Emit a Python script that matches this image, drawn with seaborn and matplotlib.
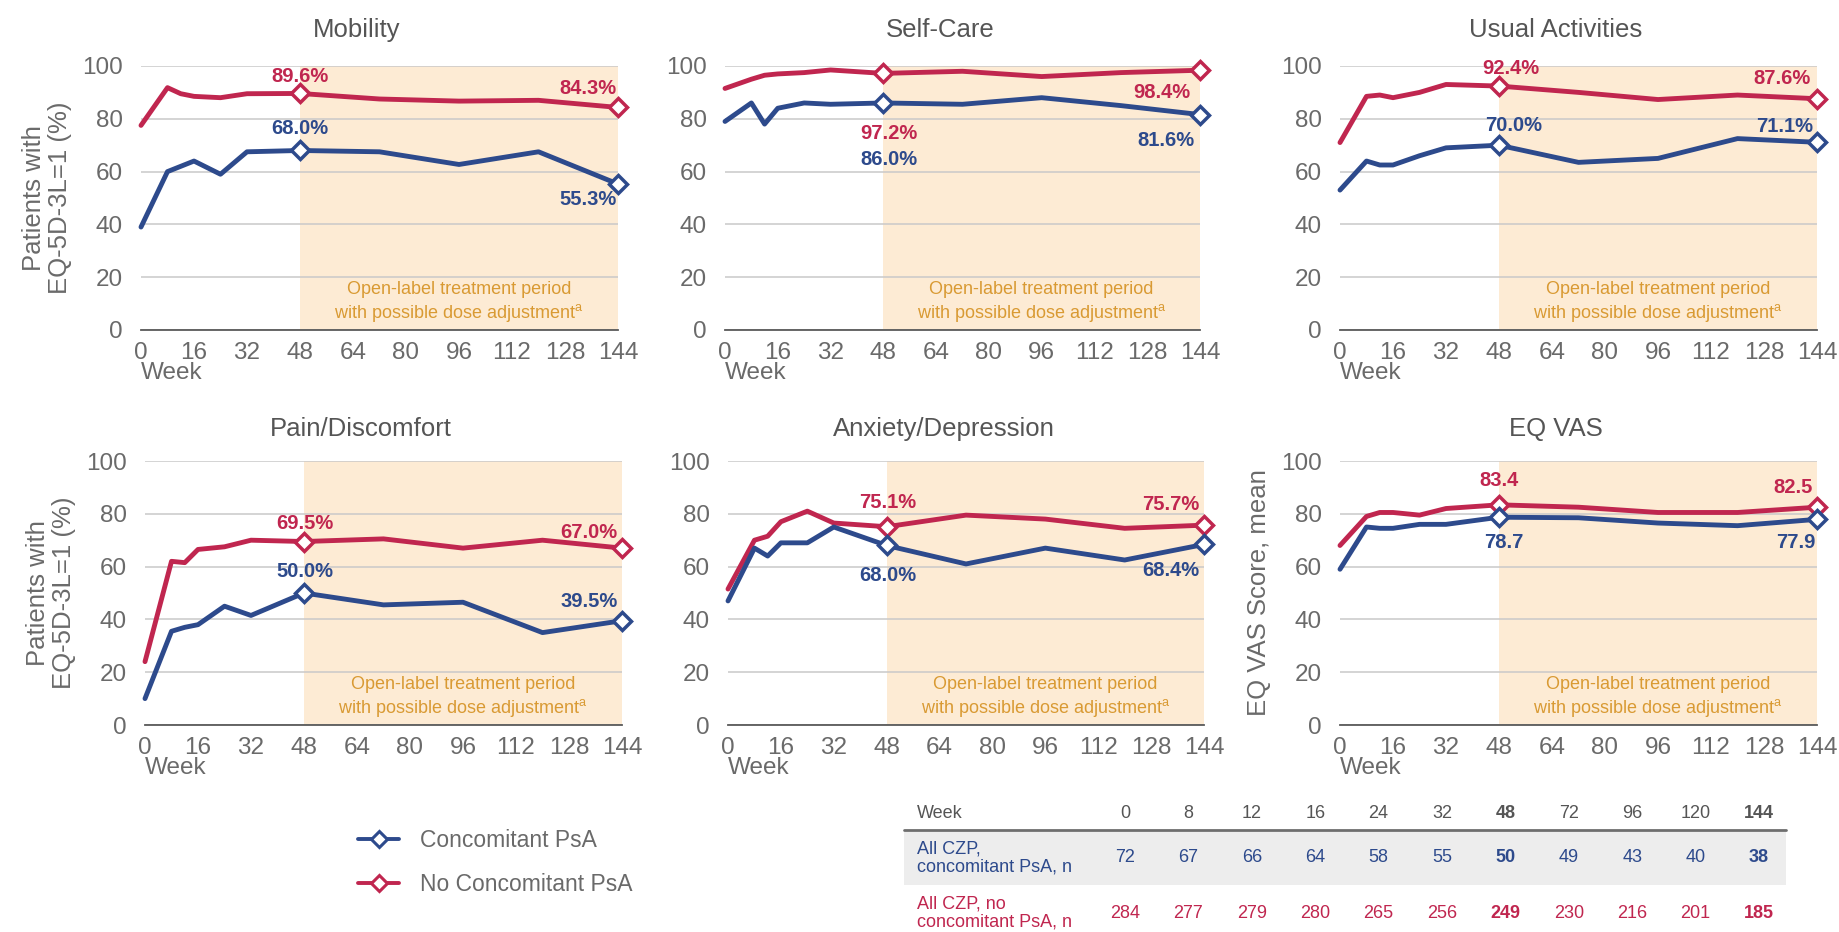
import numpy as np
import pandas as pd
import matplotlib
matplotlib.use('Agg')
import matplotlib.pyplot as plt
import seaborn as sns
from matplotlib.lines import Line2D
from matplotlib.patches import Rectangle

# ---- data ----
weeks = [0, 8, 12, 16, 24, 32, 48, 72, 96, 120, 144]
tick_weeks = [0, 16, 32, 48, 64, 80, 96, 112, 128, 144]

mobility_conc = [39, 60, 62, 64, 59, 67.5, 68.0, 67.5, 62.7, 67.5, 55.3]
mobility_noconc = [77.5, 91.8, 89.5, 88.5, 88, 89.5, 89.6, 87.5, 86.7, 87, 84.3]
selfcare_conc = [79, 86, 78, 84, 86, 85.5, 86.0, 85.5, 88, 85, 81.6]
selfcare_noconc = [91.5, 95, 96.5, 97, 97.5, 98.5, 97.2, 98, 96, 97.5, 98.4]
usual_conc = [53, 64, 62.5, 62.5, 66, 69, 70.0, 63.5, 65, 72.5, 71.1]
usual_noconc = [71, 88.5, 89, 88, 90, 93, 92.4, 90, 87.3, 89, 87.6]
pain_conc = [10, 35.5, 37, 38, 45, 41.5, 50.0, 45.5, 46.5, 35, 39.5]
pain_noconc = [24, 62, 61.5, 66.5, 67.5, 70, 69.5, 70.5, 67, 70, 67.0]
anxiety_conc = [47, 67, 64, 69, 69, 75, 68.0, 61, 67, 62.5, 68.4]
anxiety_noconc = [51.5, 70, 71.5, 77, 81, 76.5, 75.1, 79.5, 78, 74.5, 75.7]
vas_conc = [59, 75, 74.5, 74.5, 76, 76, 78.7, 78.5, 76.5, 75.5, 77.9]
vas_noconc = [68, 79, 80.5, 80.5, 79.5, 82, 83.4, 82.5, 80.5, 80.5, 82.5]

titles = ['Mobility', 'Self-Care', 'Usual Activities',
          'Pain/Discomfort', 'Anxiety/Depression', 'EQ VAS']
series_conc = [mobility_conc, selfcare_conc, usual_conc, pain_conc, anxiety_conc, vas_conc]
series_noconc = [mobility_noconc, selfcare_noconc, usual_noconc, pain_noconc, anxiety_noconc, vas_noconc]

group_names = ['Concomitant PsA', 'No Concomitant PsA']
table_weeks = weeks
n_conc = [72, 67, 66, 64, 58, 55, 50, 49, 43, 40, 38]
n_noconc = [284, 277, 279, 280, 265, 256, 249, 230, 216, 201, 185]
row_labels = ['All CZP,\nconcomitant PsA, n', 'All CZP, no\nconcomitant PsA, n']

# ---- styling / layout ----
BLUE = '#2D4A8C'
RED = '#C0264F'
GRAY = '#6A6A6A'
SHADE = '#FDEBD4'
SHADE_TXT = '#D99A33'
W, H = 1840, 932

sns.set_theme(style='white')
plt.rcParams['font.family'] = ['Liberation Sans', 'DejaVu Sans']

fig = plt.figure(figsize=(W / 100, H / 100), dpi=100)

# axes boxes in pixels: left, right, top(100), bottom(0)
boxes = [(141, 618, 66, 330), (725, 1200, 66, 330), (1340, 1817, 66, 330),
         (145, 622, 461, 725), (728, 1204, 461, 725), (1340, 1817, 461, 725)]
# label spots (x, y, ha) for: no-conc @48, no-conc @144, conc @48, conc @144
spots = [
    [(48, 96, 'center'), (143.5, 91.6, 'right'), (48, 76.5, 'center'), (143.5, 49.4, 'right')],
    [(49.8, 74.6, 'center'), (141.2, 90, 'right'), (49.8, 64.5, 'center'), (142.4, 71.8, 'right')],
    [(51.5, 99, 'center'), (142.2, 95.3, 'right'), (52.5, 77.4, 'center'), (142.8, 77.1, 'right')],
    [(48.3, 76.2, 'center'), (142.6, 72.9, 'right'), (48.3, 58.2, 'center'), (142.6, 46.6, 'right')],
    [(48.2, 84.4, 'center'), (142.6, 83.5, 'right'), (48.2, 56.6, 'center'), (142.6, 58.5, 'right')],
    [(48, 92.7, 'center'), (142.8, 90.1, 'right'), (49.5, 69.2, 'center'), (143.4, 69.2, 'right')],
]
ylabels = ['Patients with\nEQ-5D-3L=1 (%)', '', '', 'Patients with\nEQ-5D-3L=1 (%)', '', 'EQ VAS Score, mean']

line_kw = dict(linewidth=3.5, marker='D', markevery=[6, 10], markersize=9,
               markerfacecolor='white', markeredgewidth=2.5, solid_joinstyle='round',
               estimator=None, legend=False)

for i, (l, r, t, b) in enumerate(boxes):
    ax = fig.add_axes([l / W, 1 - b / H, (r - l) / W, (b - t) / H])
    ax.axvspan(48, 144, color=SHADE, zorder=0, lw=0)
    ax.text(96, 10.5, 'Open-label treatment period\nwith possible dose adjustment$^{\\mathregular{a}}$',
            ha='center', va='center', fontsize=13, color=SHADE_TXT, linespacing=1.25)

    df = pd.DataFrame({'week': weeks, 'conc': series_conc[i], 'noconc': series_noconc[i]})
    sns.lineplot(data=df, x='week', y='noconc', ax=ax, color=RED, markeredgecolor=RED,
                 clip_on=False, zorder=3, **line_kw)
    sns.lineplot(data=df, x='week', y='conc', ax=ax, color=BLUE, markeredgecolor=BLUE,
                 clip_on=False, zorder=4, **line_kw)

    # value labels at weeks 48 and 144
    unit = '' if titles[i] == 'EQ VAS' else '%'
    vals = [series_noconc[i][6], series_noconc[i][10], series_conc[i][6], series_conc[i][10]]
    cols = [RED, RED, BLUE, BLUE]
    for (x, y, ha), v, c in zip(spots[i], vals, cols):
        ax.text(x, y, f'{v:.1f}{unit}', ha=ha, va='center', fontsize=14.5,
                fontweight='bold', color=c, zorder=5)

    ax.set_xlim(0, 144)
    ax.set_ylim(0, 100)
    ax.set_xticks(tick_weeks)
    ax.set_yticks([0, 20, 40, 60, 80, 100])
    ax.yaxis.grid(True, color='#C9C9C9', linewidth=1.1)
    ax.set_axisbelow(True)
    for s in ['left', 'top', 'right']:
        ax.spines[s].set_visible(False)
    ax.spines['bottom'].set_color('#5A5A5A')
    ax.spines['bottom'].set_linewidth(1.3)
    ax.tick_params(axis='x', direction='out', length=6, width=1.1, color='#5A5A5A',
                   labelsize=17.5, labelcolor=GRAY, pad=3)
    ax.tick_params(axis='y', length=0, labelsize=17.5, labelcolor=GRAY, pad=13)
    ax.set_xlabel('')
    ax.set_ylabel(ylabels[i], fontsize=18.5, color=GRAY, linespacing=1.1)
    ax.yaxis.set_label_coords(-0.145, 0.5)
    ax.set_title(titles[i], fontsize=18.5, color='#555555', x=0.453, pad=21 if i < 3 else 18)
    ax.annotate('Week', xy=(0, 0), xycoords='axes fraction', xytext=(0, -23),
                textcoords='offset points', ha='left', va='top', fontsize=17.5, color=GRAY)

# ---- legend ----
handles = [Line2D([], [], color=c, lw=2.8, marker='D', markersize=8.5, markerfacecolor='white',
                  markeredgecolor=c, markeredgewidth=2.2) for c in (BLUE, RED)]
fig.legend(handles, group_names, loc='upper left', bbox_to_anchor=(358 / W, 1 - 829 / H),
           frameon=False, fontsize=16.5, labelcolor=GRAY, handlelength=1.8,
           handletextpad=0.9, labelspacing=0.9, borderpad=0, borderaxespad=0)

# ---- n table ----
narrow = ['Liberation Sans Narrow', 'Liberation Sans']
col_x = np.linspace(1125, 1759, len(table_weeks))
fig.patches.append(Rectangle((904 / W, 1 - 885 / H), (1786 - 904) / W, 53 / H,
                             transform=fig.transFigure, facecolor='#EDEDED', edgecolor='none', zorder=0))
fig.add_artist(Line2D([904 / W, 1786 / W], [1 - 830 / H] * 2, color='#6E6E6E', lw=2))
fig.text(917 / W, 1 - 813 / H, 'Week', fontsize=13, color='#555555', va='center',
         ha='left', family=narrow)
fig.text(917 / W, 1 - 858 / H, row_labels[0], fontsize=13, color=BLUE, va='center',
         ha='left', family=narrow, linespacing=1.1)
fig.text(917 / W, 1 - 913 / H, row_labels[1], fontsize=13, color=RED, va='center',
         ha='left', family=narrow, linespacing=1.1)
for x, wk, a, b in zip(col_x, table_weeks, n_conc, n_noconc):
    fw = 'bold' if wk in (48, 144) else 'normal'
    fig.text(x / W, 1 - 813 / H, str(wk), fontsize=13, color='#555555', ha='center',
             va='center', family=narrow, fontweight=fw)
    fig.text(x / W, 1 - 858 / H, str(a), fontsize=13, color=BLUE, ha='center',
             va='center', family=narrow, fontweight=fw)
    fig.text(x / W, 1 - 913 / H, str(b), fontsize=13, color=RED, ha='center',
             va='center', family=narrow, fontweight=fw)

fig.savefig('out.png', dpi=100, facecolor='white')
